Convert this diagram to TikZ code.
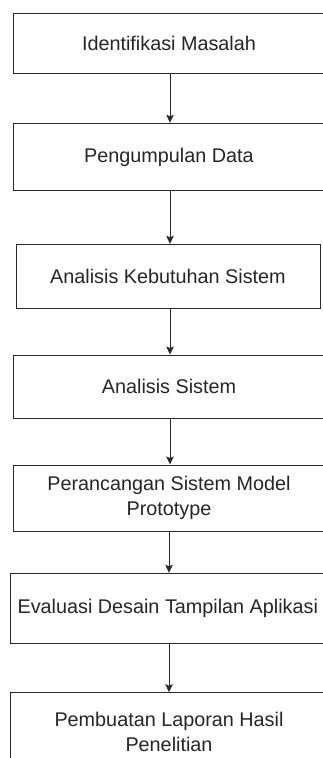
\documentclass[tikz,border=0pt]{standalone}
\usepackage{fontspec}
\setmainfont{Liberation Sans}
\usetikzlibrary{arrows.meta}
\definecolor{linec}{HTML}{2A2A2A}
\definecolor{textc}{HTML}{262626}
\tikzset{
  stepbox/.style={draw=linec, line width=1pt, rectangle, inner sep=0pt, align=center,
    text=textc, font=\fontsize{19.8}{24.5}\selectfont},
  arr/.style={draw=linec, line width=1pt, -{Stealth[width=7.5pt,length=8pt,inset=1.5pt]}}
}
\begin{document}
\begin{tikzpicture}[x=1pt,y=-1pt]
\useasboundingbox[fill=white] (0,0) rectangle (323,758);
\node[stepbox, minimum width=312pt, minimum height=60pt] (b1) at (169,43.3) {Identifikasi Masalah};
\node[stepbox, minimum width=312pt, minimum height=67.4pt] (b2) at (169,157) {Pengumpulan Data};
\node[stepbox, minimum width=304pt, minimum height=64pt] (b3) at (168,276.3) {Analisis Kebutuhan Sistem};
\node[stepbox, minimum width=312pt, minimum height=63.7pt] (b4) at (169,386.9) {Analisis Sistem};
\node[stepbox, minimum width=312pt, minimum height=66pt] (b5) at (169,498) {Perancangan Sistem Model\\Prototype};
\node[stepbox, minimum width=316.6pt, minimum height=70pt] (b6) at (169,608.3) {};
\node[text=textc, font=\fontsize{19.8}{24.5}\selectfont, inner sep=0pt] (t6) at (167.8,608.3) {Evaluasi Desain Tampilan Aplikasi};
\node[stepbox, minimum width=316.6pt, minimum height=78pt] (b7) at (169,731.7) {Pembuatan Laporan Hasil\\Penelitian};
\coordinate (ax) at (170,0);
\draw[arr] (b1.south -| ax) -- (b2.north -| ax);
\draw[arr] (b2.south -| ax) -- (b3.north -| ax);
\draw[arr] (b3.south -| ax) -- (b4.north -| ax);
\draw[arr] (b4.south -| ax) -- (b5.north -| ax);
\draw[arr] (b5.south) -- (b6.north);
\draw[arr] (b6.south) -- (b7.north);
\end{tikzpicture}
\end{document}
